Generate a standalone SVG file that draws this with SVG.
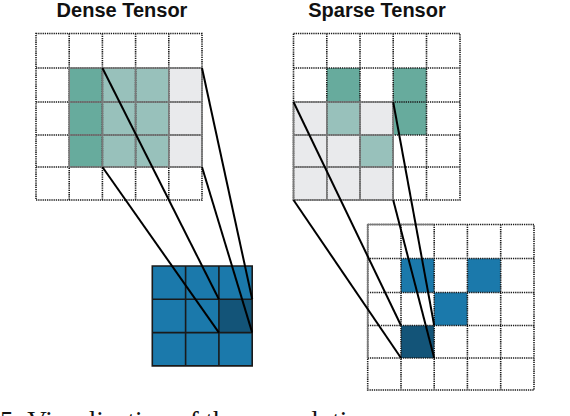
<svg xmlns="http://www.w3.org/2000/svg" width="570" height="416" viewBox="0 0 570 416">
<style>
.title{font-family:"Liberation Sans",Arial,sans-serif;font-weight:bold;font-size:20px;fill:#111;text-anchor:middle}
.cap{font-family:"Liberation Serif","Times New Roman",serif;font-size:27px;fill:#111}
.dot{fill:none;stroke:#1a1a1a;stroke-width:1.6;stroke-dasharray:1.3 0.9}
.sol{fill:none;stroke:#7a7a7a;stroke-width:1.6}
.dk{fill:#67ab9d}.md{fill:#98c1bb}.lg{fill:#e9eaec}
.bl{fill:#1b79ab}.db{fill:#135478}
.kb{fill:none;stroke:#1a1a1a;stroke-width:1.6}
.conn line{stroke:#000;stroke-width:2}
</style>
<text class="title" x="122" y="17">Dense Tensor</text>
<text class="title" x="377" y="17">Sparse Tensor</text>

<g id="dense">
<rect class="dk" x="69.2" y="68" width="33.2" height="99"/>
<rect class="md" x="102.4" y="68" width="66.4" height="99"/>
<rect class="lg" x="168.8" y="68" width="33.2" height="99"/>
<path class="dot" d="M36 33.5H202V200H36Z M36 68H202 M36 102H202 M36 135H202 M36 167H202 M69.2 33.5V200 M102.4 33.5V200 M135.6 33.5V200 M168.8 33.5V200"/>
<path class="sol" d="M69.2 68H202V167H69.2Z M69.2 102H202 M69.2 135H202 M102.4 68V167 M135.6 68V167 M168.8 68V167"/>
</g>

<g id="sparse">
<rect class="lg" x="293.5" y="102" width="99.7" height="98"/>
<rect class="dk" x="326.8" y="68" width="33.2" height="34"/>
<rect class="dk" x="393.2" y="68" width="33.3" height="67"/>
<rect class="md" x="326.8" y="102" width="33.2" height="33"/>
<rect class="md" x="360" y="135" width="33.2" height="32"/>
<path class="dot" d="M293.5 33.5H460V200H293.5Z M293.5 68H460 M293.5 102H460 M293.5 135H460 M293.5 167H460 M326.8 33.5V200 M360 33.5V200 M393.2 33.5V200 M426.5 33.5V200"/>
<path class="sol" d="M293.5 102H393.2V200H293.5Z M293.5 135H393.2 M293.5 167H393.2 M326.8 102V200 M360 102V200"/>
</g>

<g id="kernel-dense">
<rect class="bl" x="152.3" y="266" width="99.9" height="99.9"/>
<rect class="db" x="218.9" y="299.3" width="33.3" height="33.3"/>
<path class="kb" d="M152.3 266H252.2V365.9H152.3Z M152.3 299.3H252.2 M152.3 332.6H252.2 M185.6 266V365.9 M218.9 266V365.9"/>
</g>

<g id="output-sparse">
<rect class="bl" x="401" y="258.5" width="33.2" height="34"/>
<rect class="bl" x="467.4" y="258.5" width="33.3" height="34"/>
<rect class="bl" x="434.2" y="292.5" width="33.2" height="33"/>
<rect class="db" x="401" y="325.5" width="33.2" height="32.5"/>
<path class="dot" d="M367.7 224.5H534V390H367.7Z M367.7 258.5H534 M367.7 292.5H534 M367.7 325.5H534 M367.7 358H534 M401 224.5V390 M434.2 224.5V390 M467.4 224.5V390 M500.7 224.5V390"/>
<path class="sol" d="M367.7 224.5V358 M367.7 224.5H434.2"/>
</g>

<g class="conn" id="connectors">
<line x1="102.4" y1="68" x2="218.9" y2="299.3"/>
<line x1="102.4" y1="167" x2="218.9" y2="332.6"/>
<line x1="202" y1="68" x2="252.2" y2="299.3"/>
<line x1="202" y1="167" x2="252.2" y2="332.6"/>
<line x1="293.5" y1="102" x2="401" y2="325.5"/>
<line x1="293.5" y1="200" x2="401" y2="358"/>
<line x1="393.2" y1="102" x2="434.2" y2="325.5"/>
<line x1="393.2" y1="200" x2="434.2" y2="358"/>
</g>

<text class="cap" x="0" y="430">5: Visualization of the convolution</text>
</svg>
